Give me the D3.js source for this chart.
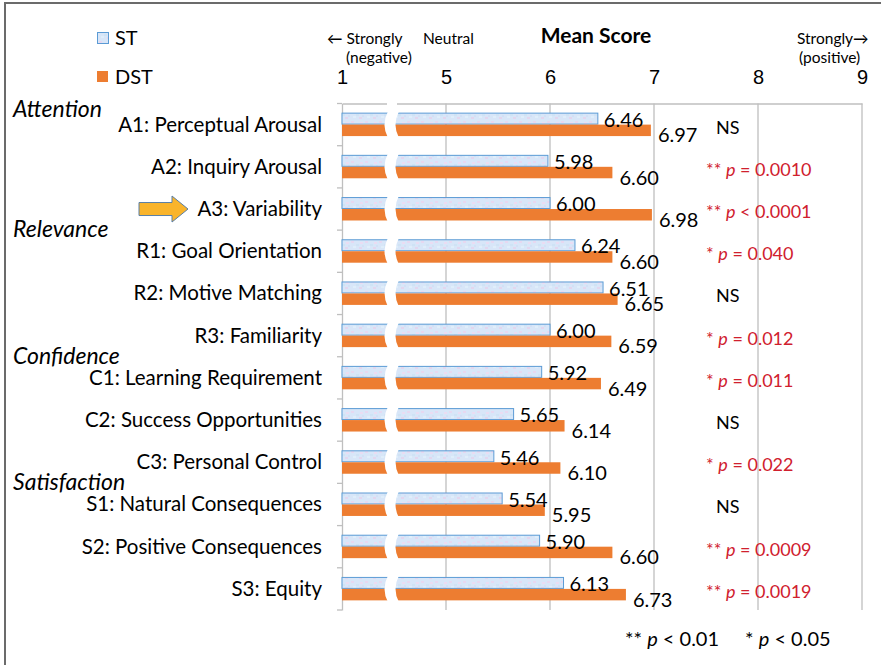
<!DOCTYPE html>
<html><head><meta charset="utf-8">
<script src="https://cdn.jsdelivr.net/npm/d3@7"></script>
<style>
body{margin:0;background:#fff;}
svg{display:block;font-family:Lato, "Open Sans", sans-serif;}
</style></head>
<body>
<script>
const categories = ["A1: Perceptual Arousal","A2: Inquiry Arousal","A3: Variability","R1: Goal Orientation","R2: Motive Matching","R3: Familiarity","C1: Learning Requirement","C2: Success Opportunities","C3: Personal Control","S1: Natural Consequences","S2: Positive Consequences","S3: Equity"];
const seriesNames = ["ST","DST"];
const stValues  = [6.46,5.98,6.00,6.24,6.51,6.00,5.92,5.65,5.46,5.54,5.90,6.13];
const dstValues = [6.97,6.60,6.98,6.60,6.65,6.59,6.49,6.14,6.10,5.95,6.60,6.73];
const sigStars = ["","**","**","*","","*","*","","*","","**","**"];
const sigText  = ["NS","p = 0.0010","p < 0.0001","p = 0.040","NS","p = 0.012","p = 0.011","NS","p = 0.022","NS","p = 0.0009","p = 0.0019"];
const groupNames = ["Attention","Relevance","Confidence","Satisfaction"];
const groupStart = [0,3,6,9];
const tickValues = [4,5,6,7,8,9];
const tickLabels = ["1","5","6","7","8","9"];

const W=881,H=665;
const svg=d3.select("body").append("svg").attr("width",W).attr("height",H);

// pattern for ST
const defs=svg.append("defs");
const pat=defs.append("pattern").attr("id","stpat").attr("patternUnits","userSpaceOnUse").attr("width",14).attr("height",10);
pat.append("rect").attr("width",14).attr("height",10).attr("fill","#d8e6f8");
[[1,1,"#e6d8f0"],[6,4,"#cfe3f5"],[10,2,"#eadcf2"],[3,6,"#dfeefa"],[9,7,"#e3d6ee"],[12,5,"#d2e0f6"]].forEach(([x,y,c])=>pat.append("rect").attr("x",x).attr("y",y).attr("width",3).attr("height",2).attr("fill",c));

// frame
svg.append("line").attr("x1",5).attr("x2",5).attr("y1",3).attr("y2",H).attr("stroke","#6b6b6b").attr("stroke-width",2);
svg.append("line").attr("x1",4).attr("x2",W).attr("y1",3).attr("y2",3).attr("stroke","#6b6b6b").attr("stroke-width",2);

const x=d3.scaleLinear().domain([4,9]).range([342,862]);
const y=d3.scaleBand().domain(categories).range([103.5,610]).padding(0);
const sub=d3.scaleBand().domain(seriesNames).range([0,y.bandwidth()]).paddingInner(0).paddingOuter(0.84);

// gridlines
svg.append("g").selectAll("line").data(tickValues.slice(1)).join("line")
 .attr("x1",d=>x(d)).attr("x2",d=>x(d)).attr("y1",103.5).attr("y2",610).attr("stroke","#bfbfbf").attr("stroke-width",1.3);

// top axis
const xAxis=d3.axisTop(x).tickValues(tickValues).tickSize(0).tickFormat((d,i)=>tickLabels[i]);
const gx=svg.append("g").attr("transform","translate(0,103.5)").call(xAxis);
gx.select(".domain").attr("stroke","#bfbfbf").attr("stroke-width",1.3);
gx.selectAll("text").attr("font-size",20).attr("fill","#000").attr("dy","-17");

// left axis
const yAxis=d3.axisLeft(y).tickValues([]).tickSize(0);
const gy=svg.append("g").attr("transform","translate(342,0)").call(yAxis);
gy.select(".domain").attr("stroke","#bfbfbf").attr("stroke-width",1.3);
svg.append("g").selectAll("line").data(categories.concat(["end"])).join("line")
 .attr("x1",337).attr("x2",342)
 .attr("y1",(d,i)=>i<categories.length?y(d):y.range()[1]).attr("y2",(d,i)=>i<categories.length?y(d):y.range()[1])
 .attr("stroke","#bfbfbf").attr("stroke-width",1.3);

// bars
const rows=categories.map((c,i)=>({c,st:stValues[i],dst:dstValues[i],i}));
const g=svg.append("g");
g.selectAll(".st").data(rows).join("rect").attr("class","st")
 .attr("x",x(4)).attr("y",d=>y(d.c)+sub("ST")).attr("width",d=>x(d.st)-x(4)).attr("height",sub.bandwidth()-0.5)
 .attr("fill","url(#stpat)").attr("stroke","#5b9bd5").attr("stroke-width",1);
g.selectAll(".dst").data(rows).join("rect").attr("class","dst")
 .attr("x",x(4)).attr("y",d=>y(d.c)+sub("DST")).attr("width",d=>x(d.dst)-x(4)).attr("height",sub.bandwidth())
 .attr("fill","#ed7d31");

// axis break
const bx1=385,bx2=396;
rows.forEach(d=>{
  const t=y(d.c)+sub("ST")-2, b=y(d.c)+sub("DST")+sub.bandwidth()+2, m=(t+b)/2;
  svg.append("path").attr("d",`M${bx1+3},${t} Q${bx1-4},${m} ${bx1+3},${b} L${bx2+3},${b} Q${bx2-4},${m} ${bx2+3},${t} Z`).attr("fill","#fff");
});
svg.append("rect").attr("x",bx1+2).attr("y",100).attr("width",bx2-bx1-1).attr("height",7).attr("fill","#fff");

// value labels
g.selectAll(".stl").data(rows).join("text").attr("class","stl")
 .attr("x",d=>x(d.st)+6).attr("y",d=>y(d.c)+sub("ST")+sub.bandwidth()/2+8)
 .attr("font-size",20).attr("fill","#000").text(d=>d.st.toFixed(2));
g.selectAll(".dstl").data(rows).join("text").attr("class","dstl")
 .attr("x",d=>x(d.dst)+7).attr("y",d=>y(d.c)+sub("DST")+sub.bandwidth()/2+12)
 .attr("font-size",20).attr("fill","#000").text(d=>d.dst.toFixed(2));

// category labels
svg.append("g").selectAll("text").data(categories).join("text")
 .attr("x",322).attr("y",d=>y(d)+y.bandwidth()/2+7).attr("text-anchor","end")
 .attr("font-size",20.5).attr("fill","#000").text(d=>d);

// group labels
svg.append("g").selectAll("text").data(groupNames).join("text")
 .attr("x",13).attr("y",(d,i)=>y(categories[groupStart[i]])+(i===0?13:7))
 .attr("font-size",23).attr("font-style","italic").attr("fill","#000").text(d=>d);

// arrow pointing to A3
const ay=y(categories[2])+y.bandwidth()/2;
svg.append("path").attr("d",`M139,${ay-6.5} L172,${ay-6.5} L172,${ay-13} L188,${ay} L172,${ay+13} L172,${ay+6.5} L139,${ay+6.5} Z`)
 .attr("fill","#f9b42b").attr("stroke","#5a7fa6").attr("stroke-width",1);

// significance
const sg=svg.append("g");
rows.forEach((d,i)=>{
  const ty=y(d.c)+y.bandwidth()/2+9;
  if(sigText[i]==="NS"){
    sg.append("text").attr("x",716).attr("y",ty).attr("font-size",18).attr("fill","#000").text("NS");
  } else {
    const t=sg.append("text").attr("x",706).attr("y",ty).attr("font-size",18).attr("fill","#d0202e");
    t.append("tspan").text(sigStars[i]+" ");
    t.append("tspan").attr("font-style","italic").text("p");
    t.append("tspan").text(sigText[i].slice(1));
  }
});

// legend
const leg=svg.append("g");
leg.append("rect").attr("x",97.5).attr("y",32.5).attr("width",11).attr("height",11).attr("fill","url(#stpat)").attr("stroke","#5b9bd5");
leg.append("text").attr("x",115).attr("y",45).attr("font-size",20).text("ST");
leg.append("rect").attr("x",97).attr("y",71).attr("width",11).attr("height",11).attr("fill","#ed7d31");
leg.append("text").attr("x",115).attr("y",84).attr("font-size",20).text("DST");

// header texts
const hd=svg.append("g").attr("font-size",15.5).attr("fill","#000");
hd.append("text").attr("x",327).attr("y",44).text("\u2190 Strongly");
hd.append("text").attr("x",346).attr("y",63).text("(negative)");
hd.append("text").attr("x",423).attr("y",44).text("Neutral");
hd.append("text").attr("x",797).attr("y",44).text("Strongly\u2192");
hd.append("text").attr("x",799).attr("y",63).text("(positive)");
svg.append("text").attr("x",596).attr("y",43).attr("text-anchor","middle").attr("font-size",21).attr("font-weight","bold").text("Mean Score");

// footnote
const fn=svg.append("text").attr("x",625).attr("y",646).attr("font-size",20).attr("fill","#000");
fn.append("tspan").text("** ");
fn.append("tspan").attr("font-style","italic").text("p");
fn.append("tspan").text(" < 0.01");
fn.append("tspan").attr("dx",26).text("* ");
fn.append("tspan").attr("font-style","italic").text("p");
fn.append("tspan").text(" < 0.05");
</script>
</body></html>
